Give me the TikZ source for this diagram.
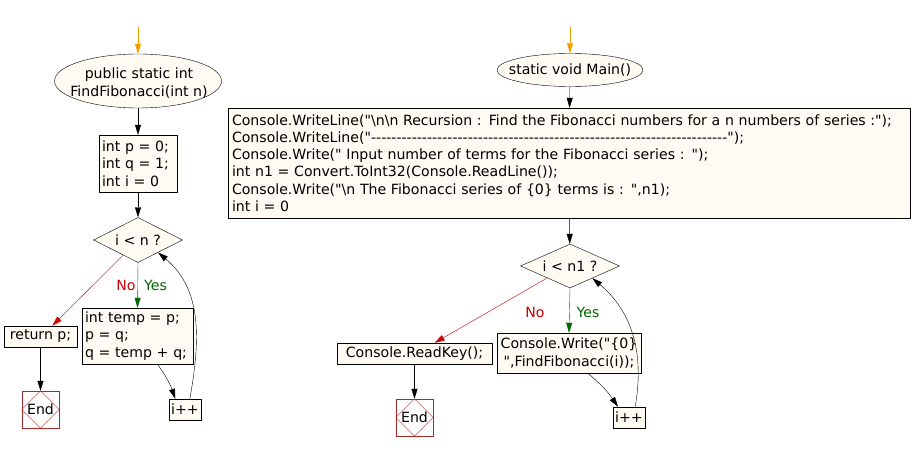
\documentclass[tikz,border=0pt]{standalone}
\usepackage{fontspec}
\setmainfont[Ligatures=TeXOff]{DejaVu Sans}
\usetikzlibrary{shapes.geometric,arrows.meta,calc}
\definecolor{boxfill}{HTML}{FFFBF3}
\definecolor{noRed}{HTML}{CC0000}
\definecolor{yesGreen}{HTML}{006600}
\definecolor{endRed}{HTML}{A52A2A}
\definecolor{startOrange}{HTML}{F5A000}
\tikzset{
  x=1pt, y=-1pt,
  every node/.style={font=\fontsize{14.1}{17.3}\selectfont, text=black},
  arr/.style={draw=black, -{Triangle[length=10pt,width=6pt]}},
  startarr/.style={draw=startOrange, thick, -{Triangle[length=10pt,width=6pt]}},
  yesarr/.style={draw=yesGreen, -{Triangle[length=10pt,width=6pt]}},
  noarr/.style={draw=noRed, -{Triangle[length=10pt,width=6pt]}},
  loop/.style={draw=black, -{Triangle[length=10pt,width=6pt]}},
  term/.style={ellipse, draw, fill=boxfill, inner sep=0pt},
  termtext/.style={align=center, inner sep=0pt},
  proc/.style={rectangle, draw, fill=boxfill, inner sep=3pt, align=left},
  cond/.style={diamond, draw, fill=boxfill, inner sep=0pt, shape aspect=2},
  endbox/.style={rectangle, draw=endRed, fill=white, minimum width=37pt, minimum height=37pt, inner sep=0pt},
  nolab/.style={text=noRed},
  yeslab/.style={text=yesGreen}
}
\begin{document}
\begin{tikzpicture}
\useasboundingbox (0,0) rectangle (913,452);
% ---------------- left chart
\coordinate (startL) at (138,27);
\node[term, minimum width=167pt, minimum height=54pt] (funcL) at (138,81) {};
\node[termtext] (funcLtxt) at (139,83) {public static int\\FindFibonacci(int n)};
\node[proc, minimum width=78pt, minimum height=57pt, text width=72pt] (boxL1) at (138,163.5) {int p = 0;\\int q = 1;\\int i = 0};
\node[cond, minimum width=89pt, minimum height=45pt] (diaL) at (138,240) {i < n ?};
\node[proc, minimum width=111pt, minimum height=56pt, text width=105pt] (boxTemp) at (137.5,336) {int temp = p;\\p = q;\\q = temp + q;};
\node[proc, minimum width=73pt, minimum height=21pt, align=center, inner sep=0pt] (retL) at (40.5,336.5) {return p;};
\node[endbox] (endL) at (40.5,409.5) {End};
\draw[endRed, line width=0.4pt] (endL.north) -- (endL.east) -- (endL.south) -- (endL.west) -- cycle;
\node[proc, minimum width=32pt, minimum height=21pt, align=center, inner sep=0pt] (incL) at (185,409.5) {i++};
\node[nolab] (noL) at (126,285) {No};
\node[yeslab] (yesL) at (155.5,285) {Yes};

\draw[startarr] (startL) -- (funcL.north);
\draw[arr] (funcL) -- (boxL1);
\draw[arr] (boxL1) -- (diaL);
\draw[yesarr] (diaL.south) -- (boxTemp.north);
\draw[noarr] ($(diaL.west)!0.67!(diaL.south)$) -- ($(retL.north west)!0.66!(retL.north east)$);
\draw[arr] (retL) -- (endL);
\draw[arr] ($(boxTemp.south west)!0.68!(boxTemp.south east)$) to[bend left=8] ($(incL.north west)!0.2!(incL.north east)$);
\draw[loop] ($(incL.north west)!0.65!(incL.north east)$) to[out=80,in=-40] ($(diaL.south)!0.45!(diaL.east)$);

% ---------------- right chart
\coordinate (startR) at (570,27);
\node[term, minimum width=146pt, minimum height=33pt] (mainR) at (570,70) {};
\node[termtext] (mainRtxt) at (570,70) {static void Main()};
\node[proc, minimum width=682pt, minimum height=110pt, text width=674pt] (boxBig) at (569,163) {Console.WriteLine("\textbackslash n\textbackslash n Recursion : Find the Fibonacci numbers for a n numbers of series :");\\
Console.WriteLine("----------------------------------------------------------------------");\\
Console.Write(" Input number of terms for the Fibonacci series : ");\\
int n1 = Convert.ToInt32(Console.ReadLine());\\
Console.Write("\textbackslash n The Fibonacci series of \{0\} terms is : ",n1);\\
int i = 0};
\node[cond, minimum width=99pt, minimum height=44pt] (diaR) at (570,266) {i < n1 ?};
\node[proc, minimum width=144pt, minimum height=40pt, inner sep=0pt] (boxW) at (569,353) {};
\node[termtext] (boxWtxt) at (569,353) {Console.Write("\{0\}\\",FindFibonacci(i));};
\node[proc, minimum width=155pt, minimum height=21pt, align=center, inner sep=0pt] (readK) at (414.5,353.5) {Console.ReadKey();};
\node[endbox] (endR) at (414.5,417.5) {End};
\draw[endRed, line width=0.4pt] (endR.north) -- (endR.east) -- (endR.south) -- (endR.west) -- cycle;
\node[proc, minimum width=32pt, minimum height=21pt, align=center, inner sep=0pt] (incR) at (629,417.5) {i++};
\node[nolab] (noR) at (535,312) {No};
\node[yeslab] (yesR) at (588,312) {Yes};

\draw[startarr] (startR) -- (mainR.north);
\draw[arr] (mainR) -- (boxBig);
\draw[arr] (boxBig) -- (diaR);
\draw[yesarr] (diaR.south) -- (boxW.north);
\draw[noarr] ($(diaR.west)!0.54!(diaR.south)$) -- ($(readK.north west)!0.63!(readK.north east)$);
\draw[arr] (readK) -- (endR);
\draw[arr] ($(boxW.south west)!0.63!(boxW.south east)$) to[bend left=8] ($(incR.north west)!0.16!(incR.north east)$);
\draw[loop] ($(incR.north west)!0.69!(incR.north east)$) to[out=80,in=-40] ($(diaR.south)!0.45!(diaR.east)$);
\end{tikzpicture}
\end{document}
